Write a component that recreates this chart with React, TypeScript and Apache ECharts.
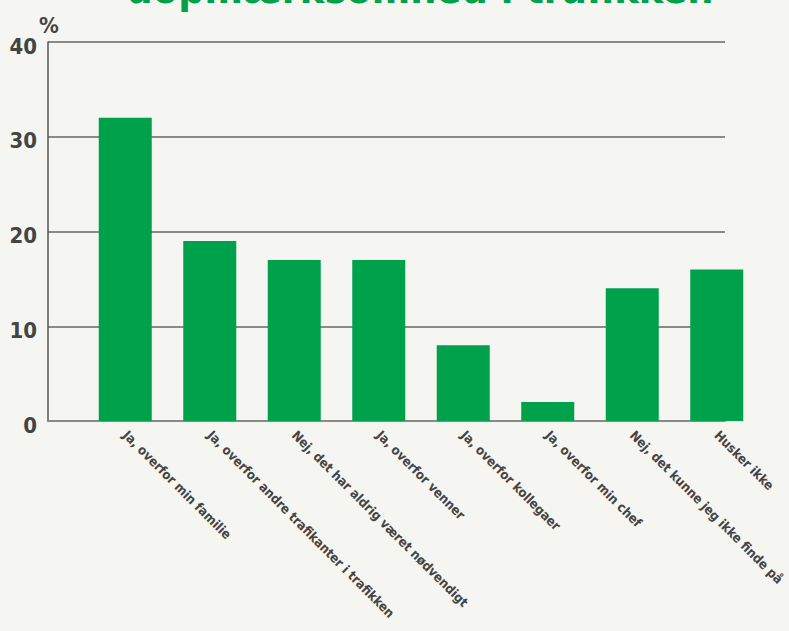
import React, { useEffect, useRef } from "react";
import * as echarts from "echarts";

const categories = [
  "Ja, overfor min familie",
  "Ja, overfor andre trafikanter i trafikken",
  "Nej, det har aldrig været nødvendigt",
  "Ja, overfor venner",
  "Ja, overfor kollegaer",
  "Ja, overfor min chef",
  "Nej, det kunne jeg ikke finde på",
  "Husker ikke",
];
const values = [32, 19, 17, 17, 8, 2, 14, 16];
const yTicks = [0, 10, 20, 30, 40];
const titleText = "uopmærksomhed i trafikken";
const unitText = "%";

const GREEN = "#00a14b";
const GREY = "#444444";
const BG = "#f5f5f1";
const COND = "'DejaVu Sans Condensed', 'DejaVu Sans', sans-serif";

export default function App() {
  const ref = useRef<HTMLDivElement>(null);
  useEffect(() => {
    if (!ref.current) return;
    const chart = echarts.init(ref.current, null, { renderer: "svg" });
    chart.setOption({
      animation: false,
      backgroundColor: BG,
      grid: [
        { left: 48, right: 64, top: 42, bottom: 210, containLabel: false, outerBoundsMode: "none" },
        { left: 83, right: 30, top: 42, bottom: 210, containLabel: false, outerBoundsMode: "none" },
      ],
      graphic: [
        {
          type: "text",
          x: 420,
          y: 9,
          style: {
            text: titleText,
            fill: GREEN,
            font: `bold 41px ${COND}`,
            align: "center",
            verticalAlign: "bottom",
          },
        },
        {
          type: "text",
          x: 49,
          y: 25,
          style: {
            text: unitText,
            fill: GREY,
            font: `bold 22px ${COND}`,
            align: "center",
            verticalAlign: "middle",
          },
        },
      ],
      xAxis: [
        {
          type: "category",
          gridIndex: 0,
          data: categories,
          axisLine: { show: true, lineStyle: { color: "#8a8a86", width: 2 } },
          axisTick: { show: false },
          axisLabel: { show: false },
          splitLine: { show: false },
        },
        {
          type: "category",
          gridIndex: 1,
          data: categories,
          axisLine: { show: false },
          axisTick: { show: false },
          axisLabel: {
            interval: 0,
            rotate: -45,
            margin: 12,
            color: GREY,
            fontWeight: "bold",
            fontSize: 13,
            fontFamily: COND,
          },
        },
      ],
      yAxis: [
        {
          type: "value",
          gridIndex: 0,
          min: yTicks[0],
          max: yTicks[yTicks.length - 1],
          interval: 10,
          axisLine: { show: true, lineStyle: { color: "#555555", width: 1.5 } },
          axisTick: { show: false },
          splitLine: { show: true, lineStyle: { color: "#8a8a86", width: 2 } },
          axisLabel: {
            margin: 11,
            color: GREY,
            fontWeight: "bold",
            fontSize: 22,
            fontFamily: COND,
            verticalAlign: "top",
            padding: [-7, 0, 0, 0],
          },
        },
        {
          type: "value",
          gridIndex: 1,
          min: 0,
          max: 40,
          interval: 10,
          show: false,
          splitLine: { show: false },
        },
      ],
      series: [
        {
          type: "bar",
          xAxisIndex: 1,
          yAxisIndex: 1,
          data: values,
          barWidth: 53,
          itemStyle: { color: GREEN },
          z: 3,
        },
      ],
    });
    return () => chart.dispose();
  }, []);
  return <div ref={ref} style={{ width: 789, height: 631, position: "absolute", left: 0, top: 0 }} />;
}
